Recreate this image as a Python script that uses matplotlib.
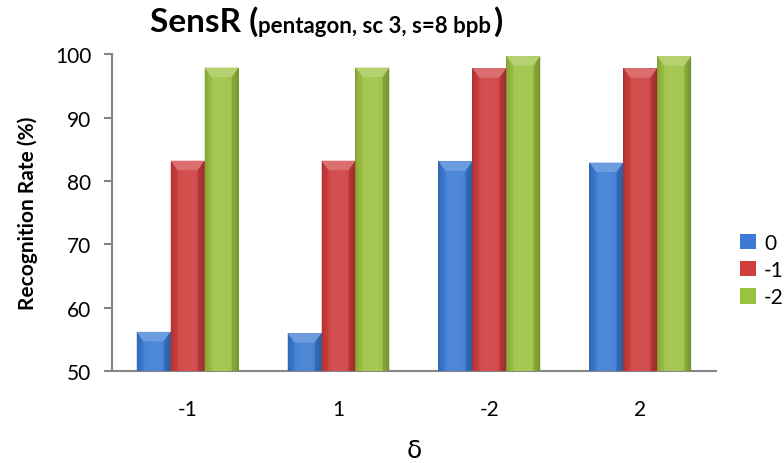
import numpy as np
import matplotlib.pyplot as plt
from matplotlib.colors import to_rgb
from matplotlib.patches import Polygon, Patch

plt.rcParams['font.family'] = ['Lato', 'DejaVu Sans']

# recognition rates per delta, one list per series
deltas = ['-1', '1', '-2', '2']
series_names = ['0', '-1', '-2']
rate_0 = [56.2, 56.0, 83.1, 82.9]
rate_m1 = [83.2, 83.2, 97.8, 97.8]
rate_m2 = [97.9, 97.9, 99.7, 99.7]
colors = ['#3b7bd3', '#cf3d3d', '#9cc241']

fig = plt.figure(figsize=(7.84, 4.64), dpi=100)
ax = fig.add_axes([0.143, 0.198, 0.770, 0.683])

x = np.arange(len(deltas))
w = 0.225
ymin = 50


def shade(c, f):
    c = np.array(to_rgb(c))
    if f >= 0:
        return tuple(c + (1 - c) * f)
    return tuple(c * (1 + f))


def fancy_bars(xs, vals, color):
    bars = ax.bar(xs, np.array(vals) - ymin, w, bottom=ymin, color=color,
                  edgecolor='none', zorder=2)
    # horizontal gradient, darker at the sides
    grad = np.linspace(-1, 1, 64)
    prof = 0.10 - 0.35 * grad ** 4
    img = np.array([[shade(color, p) for p in prof]])
    for b in bars:
        x0, y0 = b.get_x(), b.get_y()
        x1, y1 = x0 + b.get_width(), y0 + b.get_height()
        im = ax.imshow(img, extent=[x0, x1, y0, y1], aspect='auto',
                       zorder=3, interpolation='bilinear')
        im.set_clip_path(b)
        # bevelled top
        h, d = 1.5, 0.045
        ax.add_patch(Polygon([(x0, y1), (x1, y1), (x1 - d, y1 - h),
                              (x0 + d, y1 - h)], closed=True,
                             facecolor=shade(color, 0.25), edgecolor='none',
                             zorder=4))
        ax.add_patch(Polygon([(x0, y1), (x0 + d, y1 - h), (x0 + d, y0),
                              (x0, y0)], closed=True,
                             facecolor=shade(color, -0.08), edgecolor='none',
                             alpha=0.6, zorder=4))
        ax.add_patch(Polygon([(x1, y1), (x1 - d, y1 - h), (x1 - d, y0),
                              (x1, y0)], closed=True,
                             facecolor=shade(color, -0.25), edgecolor='none',
                             alpha=0.6, zorder=4))


for i, (vals, c) in enumerate(zip([rate_0, rate_m1, rate_m2], colors)):
    fancy_bars(x + (i - 1) * w, vals, c)

ax.set_xlim(-0.5, len(deltas) - 0.5)
ax.set_ylim(50, 100)
ax.set_yticks(np.arange(50, 101, 10))
ax.set_xticks(x)
ax.set_xticklabels(deltas)

for s in ['top', 'right']:
    ax.spines[s].set_visible(False)
for s in ['left', 'bottom']:
    ax.spines[s].set_color('#868686')
    ax.spines[s].set_linewidth(1.5)
ax.tick_params(axis='y', length=6, width=1.5, color='#868686',
               labelsize=15, pad=9)
ax.tick_params(axis='x', length=0, labelsize=15, pad=20)

ax.set_ylabel('Recognition Rate (%)', fontsize=15, fontweight='bold',
              labelpad=12)
ax.set_xlabel('δ', fontsize=18, labelpad=14, family=['DejaVu Sans'])

# title in two sizes
t1 = fig.text(0.191, 0.953, 'SensR (', ha='left', va='center', fontsize=24,
              fontweight='bold')
fig.canvas.draw()
r = fig.canvas.get_renderer()
bb = t1.get_window_extent(r)
t2 = fig.text(bb.x1 / fig.bbox.width, 0.942, 'pentagon, sc 3, s=8 bpb',
              ha='left', va='center', fontsize=16, fontweight='bold')
bb2 = t2.get_window_extent(r)
fig.text(bb2.x1 / fig.bbox.width + 0.003, 0.953, ')', ha='left', va='center',
         fontsize=24, fontweight='bold')

handles = [Patch(facecolor=c, edgecolor='none') for c in colors]
fig.legend(handles, series_names, loc='center left',
           bbox_to_anchor=(0.944, 0.416), frameon=False, fontsize=15,
           borderpad=0, borderaxespad=0,
           handlelength=0.75, handleheight=0.75, handletextpad=0.4,
           labelspacing=0.35)

fig.savefig('out.png', dpi=100)
